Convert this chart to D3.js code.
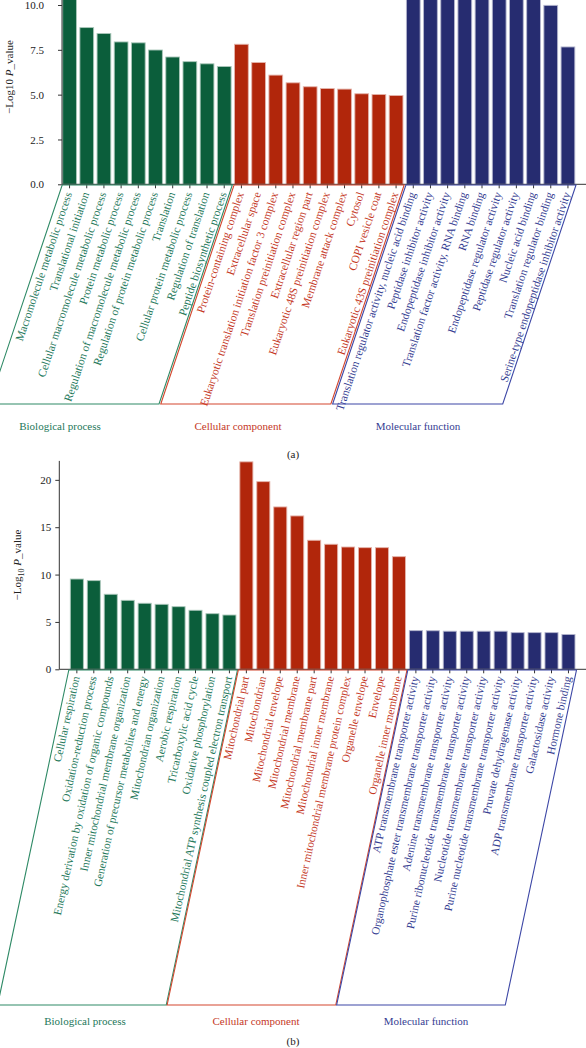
<!DOCTYPE html>
<html><head><meta charset="utf-8">
<script src="https://cdn.jsdelivr.net/npm/d3@7"></script>
<style>
body{margin:0;background:#fff}
svg{display:block}
text{font-family:"Liberation Serif","Times New Roman",serif}
</style>
</head><body>
<svg id="c" width="586" height="1048"></svg>
<script>
// ---------- DATA ----------
const groupNames = ["Biological process", "Cellular component", "Molecular function"];

// Panel (a)
const aBPTerms = ["Macromolecule metabolic process","Translational initiation","Cellular macromolecule metabolic process","Protein metabolic process","Regulation of macromolecule metabolic process","Regulation of protein metabolic process","Translation","Cellular protein metabolic process","Regulation of translation","Peptide biosynthetic process"];
const aBPValues = [10.9, 8.74, 8.41, 7.94, 7.89, 7.49, 7.10, 6.84, 6.72, 6.57];
const aCCTerms = ["Protein-containing complex","Extracellular space","Eukaryotic translation initiation factor 3 complex","Translation preinitiation complex","Extracellular region part","Eukaryotic 48S preinitiation complex","Membrane attack complex","Cytosol","COPI vesicle coat","Eukaryotic 43S preinitiation complex"];
const aCCValues = [7.81, 6.79, 6.09, 5.66, 5.44, 5.34, 5.31, 5.05, 5.01, 4.95];
const aMFTerms = ["Translation regulator activity, nucleic acid binding","Peptidase inhibitor activity","Endopeptidase inhibitor activity","Translation factor activity, RNA binding","RNA binding","Endopeptidase regulator activity","Peptidase regulator activity","Nucleic acid binding","Translation regulator binding","Serine-type endopeptidase inhibitor activity"];
const aMFValues = [11.5, 11.4, 11.3, 11.2, 11.1, 11.0, 10.9, 10.8, 9.98, 7.66];
const aYTicks = [0, 2.5, 5, 7.5, 10];

// Panel (b)
const bBPTerms = ["Cellular respiration","Oxidation-reduction process","Energy derivation by oxidation of organic compounds","Inner mitochondrial membrane organization","Generation of precursor metabolites and energy","Mitochondrian organization","Aerobic respiration","Tricarboxylic acid cycle","Oxidative phosphorylation","Mitochondrial ATP synthesis coupled electron transport"];
const bBPValues = [9.53, 9.36, 7.92, 7.28, 6.97, 6.86, 6.61, 6.23, 5.87, 5.73];
const bCCTerms = ["Mitochondrial part","Mitochondrian","Mitochondrial envelope","Mitochondrial membrane","Mitochondrial membrane part","Mitochondrial inner membrane","Inner mitochondrial membrane protein complex","Organelle envelope","Envelope","Organelle inner membrane"];
const bCCValues = [21.9, 19.81, 17.14, 16.19, 13.62, 13.2, 12.91, 12.84, 12.84, 11.89];
const bMFTerms = ["ATP transmembrane transporter activity","Organophosphate ester transmembrane transporter activity","Adenine transmembrane transporter activity","Purine ribonucleotide transmembrane transporter activity","Nucleotide transmembrane transporter activity","Purine nucleotide transmembrane transporter activity","Pruvate dehydragenase activity","ADP transmembrane transporter activity","Galactosidase activity","Hormone binding"];
const bMFValues = [4.08, 4.07, 4.02, 4.02, 4.02, 4.02, 3.87, 3.87, 3.87, 3.68];
const bYTicks = [0, 5, 10, 15, 20];

// ---------- STYLE ----------
const barColors  = ["#0b5e3b", "#b1260b", "#262c70"];
const textColors = ["#23785a", "#c5381f", "#353d92"];
const boxColors  = ["#2f8a66", "#d3472e", "#3d47a6"];

const svg = d3.select("#c");

function build(terms, values) {
  const rows = [];
  terms.forEach((t, g) => t.forEach((name, i) => rows.push({name, value: values[g][i], g, key: g + "-" + i})));
  return rows;
}

function panel(o) {
  const rows = build(o.terms, o.values);
  const x = d3.scaleBand().domain(rows.map(d => d.key)).range(o.xRange)
    .paddingInner(o.pi).paddingOuter(o.po);
  const y = d3.scaleLinear().domain(o.yDomain).range(o.yRange);
  const y0 = y(0);
  const G = svg.append("g");

  // bars
  G.selectAll("rect.bar").data(rows).join("rect")
    .attr("x", d => x(d.key)).attr("width", x.bandwidth())
    .attr("y", d => y(d.value)).attr("height", d => y0 - y(d.value))
    .attr("fill", d => barColors[d.g])
    .attr("stroke", d => d3.interpolateRgb(barColors[d.g], "#ffffff")(0.65))
    .attr("stroke-width", 0.9);

  // y axis
  const ya = d3.axisLeft(y).tickValues(o.yTicks).tickFormat(o.fmt).tickSize(o.tickLen).tickPadding(o.tickPad).tickSizeOuter(0);
  const yg = G.append("g").attr("transform", `translate(${o.xAxisX},0)`).call(ya);
  yg.select(".domain").remove();
  yg.selectAll("line").attr("stroke", "#333");
  yg.selectAll("text").attr("font-size", 11).attr("fill", "#222").attr("font-family", '"Liberation Serif",serif');
  G.append("line").attr("x1", o.xAxisX).attr("x2", o.xAxisX).attr("y1", y0).attr("y2", o.yAxisTop).attr("stroke", "#333").attr("stroke-width", 1);

  // x axis
  const xa = d3.axisBottom(x).tickSize(4).tickFormat("").tickSizeOuter(0);
  const xg = G.append("g").attr("transform", `translate(0,${y0})`).call(xa);
  xg.select(".domain").remove();
  xg.selectAll("line").attr("stroke", "#333");
  G.append("line").attr("x1", o.xAxisX).attr("x2", o.xAxisEnd).attr("y1", y0).attr("y2", y0).attr("stroke", "#333");

  // labels
  G.selectAll("text.lab").data(rows).join("text")
    .attr("class", "lab")
    .attr("transform", d => `translate(${x(d.key) + x.bandwidth() / 2 + o.labDx},${y0 + o.labDy}) rotate(${-o.angle})`)
    .attr("text-anchor", "end").attr("dy", "0.35em")
    .attr("font-size", o.labSize).attr("font-style", o.italic ? "italic" : "normal")
    .attr("fill", d => textColors[d.g]).text(d => d.name);

  // group boxes
  const slant = (o.boxBottom - o.boxTop) / Math.tan(o.boxAngle * Math.PI / 180);
  o.terms.forEach((t, g) => {
    const k0 = g + "-0", k1 = g + "-" + (t.length - 1);
    const l = x(k0) - o.boxPadL, r = x(k1) + x.bandwidth() + o.boxPadR;
    const pts = [[l, o.boxTop], [r, o.boxTop], [r - slant, o.boxBottom], [l - slant, o.boxBottom]];
    G.append("path").attr("d", "M" + pts.map(p => p.join(",")).join("L") + "Z")
      .attr("fill", "none").attr("stroke", boxColors[g]).attr("stroke-width", 1.1);
    G.append("text").attr("x", o.titleX[g]).attr("y", o.titleY).attr("text-anchor", "middle")
      .attr("font-size", 11).attr("fill", textColors[g]).text(groupNames[g]);
  });

  svg.append("text").attr("x", 293).attr("y", o.capY).attr("text-anchor", "middle")
    .attr("font-size", 11).attr("fill", "#222").text(o.caption);

  // y label
  const yl = svg.append("text").attr("transform", `translate(${o.yLabX},${o.yLabY}) rotate(-90)`)
    .attr("text-anchor", "middle").attr("font-size", 11).attr("fill", "#222");
  yl.append("tspan").text("\u2212Log");
  if (o.subscript) {
    yl.append("tspan").attr("font-size", 8).attr("dy", 3).text("10");
    yl.append("tspan").attr("dy", -3).text(" ");
  } else {
    yl.append("tspan").text("10 ");
  }
  yl.append("tspan").attr("font-style", "italic").text("P");
  yl.append("tspan").text("_value");
}

panel({
  terms: [aBPTerms, aCCTerms, aMFTerms], values: [aBPValues, aCCValues, aMFValues],
  xRange: [62, 575.5], pi: 0.2, po: 0.04,
  yDomain: [0, 10], yRange: [184.3, 5], yTicks: aYTicks, fmt: d3.format(".1f"),
  tickLen: 4, tickPad: 14, xAxisX: 62, xAxisEnd: 586, yAxisTop: 0,
  labDx: -1.2, labDy: 8, angle: 71.5, labSize: 11.4, italic: false,
  boxTop: 185, boxBottom: 404, boxAngle: 71.5, boxPadL: 0.5, boxPadR: 1.2,
  titleX: [60, 238, 418], titleY: 430, capY: 458, caption: "(a)",
  yLabX: 13, yLabY: 77, subscript: false
});

panel({
  terms: [bBPTerms, bCCTerms, bMFTerms], values: [bBPValues, bCCValues, bMFValues],
  xRange: [59.3, 586], pi: 0.23, po: 0.65,
  yDomain: [0, 22], yRange: [669.3, 460.9], yTicks: bYTicks, fmt: d3.format("d"),
  tickLen: 4, tickPad: 4, xAxisX: 59.3, xAxisEnd: 586, yAxisTop: 460.9,
  labDx: -1, labDy: 7, angle: 77.5, labSize: 11.3, italic: false,
  boxTop: 670, boxBottom: 1005, boxAngle: 78, boxPadL: 1.5, boxPadR: 1.5,
  titleX: [85, 256, 426], titleY: 1025, capY: 1045, caption: "(b)",
  yLabX: 21, yLabY: 565, subscript: true
});
</script>
</body></html>
